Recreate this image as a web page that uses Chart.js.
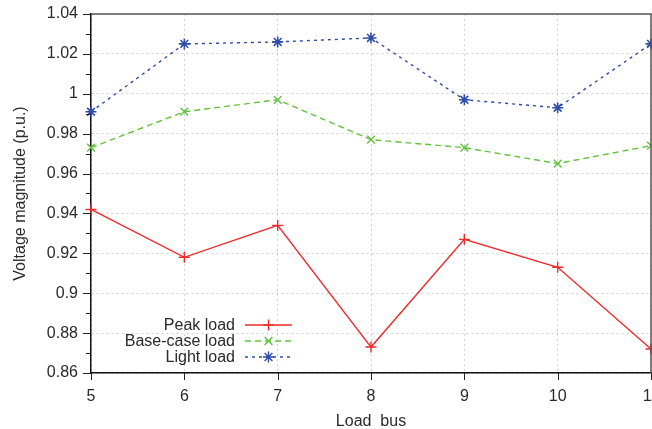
<!DOCTYPE html>
<html>
<head>
<meta charset="utf-8">
<script src="https://cdn.jsdelivr.net/npm/chart.js@4"></script>
<style>
  html, body { margin: 0; padding: 0; background: #fff; overflow: hidden; }
  #wrap { width: 671px; height: 429px; }
</style>
</head>
<body>
<div id="wrap"><canvas id="voltChart" width="671" height="429"></canvas></div>
<script>
const buses = ['5', '6', '7', '8', '9', '10', '11'];
const peakLoad = [0.942, 0.918, 0.934, 0.873, 0.927, 0.913, 0.872];
const baseLoad = [0.973, 0.991, 0.997, 0.977, 0.973, 0.965, 0.974];
const lightLoad = [0.991, 1.025, 1.026, 1.028, 0.997, 0.993, 1.025];
const yTicks = ['0.86', '0.88', '0.9', '0.92', '0.94', '0.96', '0.98', '1', '1.02', '1.04'];

const RED = '#ee2a2a', GREEN = '#62c23c', BLUE = '#2f4ca6';
const FONT = 'Liberation Sans, Arial, sans-serif';
const TEXT = '#2a2a2a';

// gnuplot-ish frame, tick marks and the key at bottom left
const framePlugin = {
    id: 'frame',
    afterDraw(chart) {
        const {ctx, chartArea: a, scales} = chart;
        ctx.save();
        ctx.strokeStyle = '#555';
        ctx.lineWidth = 1.5;
        ctx.beginPath();
        ctx.moveTo(a.left, a.top); ctx.lineTo(a.right, a.top); ctx.lineTo(a.right, a.bottom);
        ctx.stroke();

        ctx.strokeStyle = '#222';
        ctx.lineWidth = 1;
        const y = scales.y;
        for (let v = 0.86; v <= 1.0401; v += 0.01) {
            const py = Math.round(y.getPixelForValue(v)) + 0.5;
            const major = Math.round(v * 100) % 2 === 0;
            ctx.beginPath();
            ctx.moveTo(a.left - (major ? 8 : 5), py); ctx.lineTo(a.left, py);
            ctx.stroke();
        }
        const x = scales.x;
        buses.forEach((b, i) => {
            const px = Math.round(x.getPixelForValue(i)) + 0.5;
            ctx.beginPath();
            ctx.moveTo(px, a.bottom); ctx.lineTo(px, a.bottom + 7);
            ctx.stroke();
        });

        // key
        const keyX = 235, lineX0 = 245, lineX1 = 292;
        const rows = [325, 341, 357];
        ctx.font = '16px ' + FONT;
        ctx.textAlign = 'right';
        ctx.textBaseline = 'middle';
        chart.data.datasets.forEach((ds, i) => {
            const ry = rows[i];
            ctx.fillStyle = TEXT;
            ctx.fillText(ds.label, keyX, ry + 1);
            ctx.strokeStyle = ds.borderColor;
            ctx.lineWidth = 1.4;
            ctx.setLineDash(ds.borderDash || []);
            ctx.beginPath();
            ctx.moveTo(lineX0, ry); ctx.lineTo(lineX1, ry);
            ctx.stroke();
            ctx.setLineDash([]);
            Chart.helpers.drawPoint(ctx, {
                pointStyle: ds.pointStyle, radius: 5.5, borderWidth: 1.4, rotation: 0
            }, (lineX0 + lineX1) / 2, ry);
        });
        ctx.restore();
    }
};

const ctx = document.getElementById('voltChart').getContext('2d');
const voltChart = new Chart(ctx, {
    type: 'line',
    data: {
        labels: buses,
        datasets: [
            {
                label: 'Peak load',
                data: peakLoad,
                borderColor: RED,
                borderWidth: 1.4,
                pointStyle: 'cross',
                pointRadius: 5.5,
                pointBorderWidth: 1.4,
                pointBorderColor: RED,
                tension: 0,
                fill: false
            },
            {
                label: 'Base-case load',
                data: baseLoad,
                borderColor: GREEN,
                borderWidth: 1.4,
                borderDash: [6, 4],
                pointStyle: 'crossRot',
                pointRadius: 5.5,
                pointBorderWidth: 1.4,
                pointBorderColor: GREEN,
                tension: 0,
                fill: false
            },
            {
                label: 'Light load',
                data: lightLoad,
                borderColor: BLUE,
                borderWidth: 1.4,
                borderDash: [3, 4],
                pointStyle: 'star',
                pointRadius: 5.5,
                pointBorderWidth: 1.6,
                pointBorderColor: BLUE,
                tension: 0,
                fill: false
            }
        ]
    },
    options: {
        responsive: false,
        animation: false,
        clip: false,
        layout: { padding: { top: 14, right: 20, left: 0, bottom: 0 } },
        plugins: {
            legend: { display: false },
            tooltip: { enabled: false }
        },
        scales: {
            x: {
                offset: false,
                grid: { color: '#d2d2d2', lineWidth: 1, drawTicks: false },
                border: { display: true, color: '#111', width: 1.5, dash: [2, 3] },
                ticks: { color: TEXT, font: { family: FONT, size: 16 }, padding: 14, maxRotation: 0, autoSkip: false },
                title: { display: true, text: 'Load  bus', color: TEXT, font: { family: FONT, size: 16 }, padding: { top: 0, bottom: -2 } },
                afterFit(scale) {
                    scale.height = 56;
                    scale.paddingLeft = 0;
                    scale.paddingRight = 0;
                }
            },
            y: {
                min: 0.86,
                max: 1.04,
                afterBuildTicks(scale) {
                    scale.ticks = yTicks.map(t => ({ value: parseFloat(t) }));
                },
                grid: { color: '#d2d2d2', lineWidth: 1, drawTicks: false },
                border: { display: true, color: '#111', width: 1.5, dash: [2, 3] },
                ticks: {
                    color: TEXT,
                    font: { family: FONT, size: 16 },
                    padding: 13,
                    callback: (v, i) => yTicks[i]
                },
                title: { display: true, text: 'Voltage magnitude (p.u.)', color: TEXT, font: { family: FONT, size: 16 }, padding: { top: 11, bottom: 0 } },
                afterFit(scale) {
                    scale.width = 91;
                    scale.paddingTop = 0;
                    scale.paddingBottom = 0;
                }
            }
        }
    },
    plugins: [framePlugin]
});
</script>
</body>
</html>
